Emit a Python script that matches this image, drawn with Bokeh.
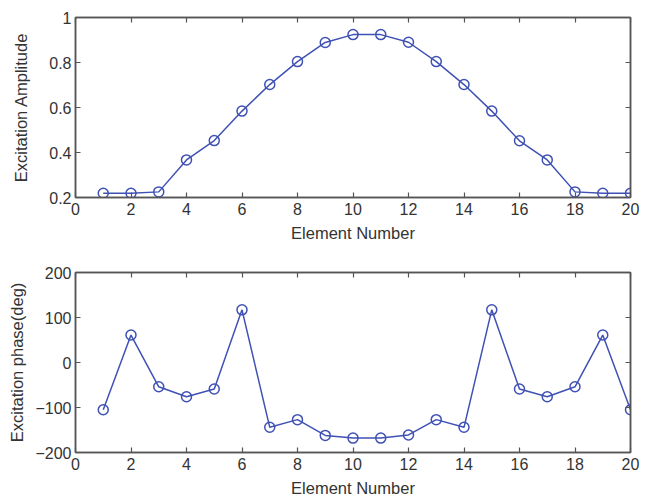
from bokeh.plotting import figure
from bokeh.layouts import column
from bokeh.models import Range1d, FixedTicker, LinearAxis, CustomJSTickFormatter
from bokeh.embed import file_html
from bokeh.resources import INLINE

element = list(range(1, 21))
amplitude = [0.219, 0.219, 0.225, 0.367, 0.453, 0.584, 0.702, 0.804, 0.889, 0.924,
             0.924, 0.890, 0.804, 0.702, 0.584, 0.452, 0.367, 0.225, 0.219, 0.219]
phase = [-105, 61, -54, -76, -59, 117, -144, -127, -162, -168,
         -168, -161, -127, -144, 117, -59, -76, -54, 61, -105]
x_ticks = list(range(0, 21, 2))
amp_ticks = [0.2, 0.4, 0.6, 0.8, 1.0]
phase_ticks = [-200, -100, 0, 100, 200]

LINE = "#3f51b5"
AXIS = "#555555"
TEXT = "#333333"
FONT = "Liberation Sans"


def make(yrange, yticks, ylabel, top, bottom, ylab_standoff, fmt=None):
    p = figure(frame_width=555, frame_height=180, output_backend="svg",
               toolbar_location=None, x_range=Range1d(0, 20),
               y_range=Range1d(*yrange), min_border_left=75, min_border_right=22,
               min_border_top=top, min_border_bottom=bottom)
    p.grid.visible = False
    p.background_fill_color = "white"
    p.border_fill_color = "white"
    p.outline_line_color = AXIS
    p.outline_line_width = 1.5
    p.xaxis.ticker = FixedTicker(ticks=x_ticks)
    p.yaxis.ticker = FixedTicker(ticks=yticks)
    if fmt is not None:
        p.yaxis.formatter = fmt
    p.xaxis.axis_label = "Element Number"
    p.yaxis.axis_label = ylabel
    for ax in p.xaxis + p.yaxis:
        ax.axis_line_color = AXIS
        ax.axis_line_width = 1.5
        ax.major_tick_line_color = AXIS
        ax.major_tick_line_width = 1.2
        ax.major_tick_in = 5
        ax.major_tick_out = 0
        ax.minor_tick_line_color = None
        ax.major_label_text_font = FONT
        ax.major_label_text_font_size = "16px"
        ax.major_label_text_color = TEXT
        ax.axis_label_text_font = FONT
        ax.axis_label_text_font_size = "16.5px"
        ax.axis_label_text_font_style = "normal"
        ax.axis_label_text_color = TEXT
    p.xaxis.major_label_standoff = 5
    p.yaxis.major_label_standoff = 4
    p.xaxis.axis_label_standoff = 6
    p.yaxis.axis_label_standoff = ylab_standoff
    for loc, ticks in (("above", x_ticks), ("right", yticks)):
        ax = LinearAxis(ticker=FixedTicker(ticks=ticks),
                        major_label_overrides={t: "" for t in ticks},
                        major_label_text_color=None,
                        axis_line_color=AXIS, axis_line_width=1.5,
                        major_tick_line_color=AXIS, major_tick_line_width=1.2,
                        major_tick_in=5, major_tick_out=0, minor_tick_line_color=None,
                        major_label_standoff=0)
        p.add_layout(ax, loc)
    return p


fmt = CustomJSTickFormatter(code="return String(Math.round(tick*10)/10);")
p1 = make((0.2, 1.0), amp_ticks, "Excitation Amplitude", 17, 55, 16, fmt)
p1.line(element, amplitude, line_color=LINE, line_width=1.5)
p1.scatter(element, amplitude, marker="circle", size=10, fill_color=None,
           line_color=LINE, line_width=1.5)

p2 = make((-200, 200), phase_ticks, "Excitation phase(deg)", 20, 51, 6)
p2.line(element, phase, line_color=LINE, line_width=1.5)
p2.scatter(element, phase, marker="circle", size=10, fill_color=None,
           line_color=LINE, line_width=1.5)

layout = column(p1, p2, spacing=0)
open("out.html", "w").write(file_html(layout, INLINE))
